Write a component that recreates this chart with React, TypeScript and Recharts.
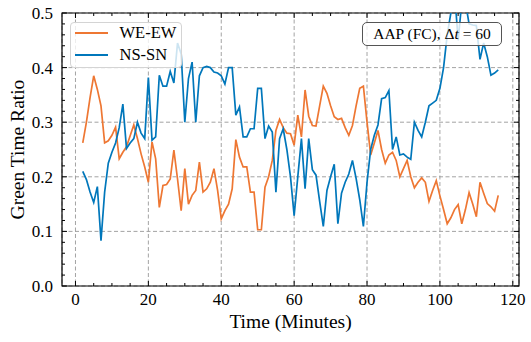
import {
  CartesianGrid,
  Line,
  LineChart,
  ReferenceArea,
  ReferenceLine,
  XAxis,
  YAxis,
} from "recharts";

// time in minutes
const minutes = [
  2, 3, 4, 5, 6, 7, 8, 9, 10, 11, 12, 13, 14, 15, 16, 17, 18, 19, 20, 21, 22,
  23, 24, 25, 26, 27, 28, 29, 30, 31, 32, 33, 34, 35, 36, 37, 38, 39, 40, 41,
  42, 43, 44, 45, 46, 47, 48, 49, 50, 51, 52, 53, 54, 55, 56, 57, 58, 59, 60,
  61, 62, 63, 64, 65, 66, 67, 68, 69, 70, 71, 72, 73, 74, 75, 76, 77, 78, 79,
  80, 81, 82, 83, 84, 85, 86, 87, 88, 89, 90, 91, 92, 93, 94, 95, 96, 97, 98,
  99, 100, 101, 102, 103, 104, 105, 106, 107, 108, 109, 110, 111, 112, 113,
  114, 115, 116,
];

const weEw = [
  0.262, 0.3, 0.345, 0.385, 0.36, 0.33, 0.262, 0.266, 0.276, 0.291,
  0.233, 0.245, 0.255, 0.275, 0.295, 0.27, 0.242, 0.218, 0.19, 0.264,
  0.233, 0.144, 0.184, 0.186, 0.196, 0.249, 0.196, 0.138, 0.215, 0.15,
  0.166, 0.175, 0.227, 0.172, 0.178, 0.19, 0.215, 0.175, 0.123, 0.138,
  0.15, 0.178, 0.268, 0.236, 0.218, 0.218, 0.172, 0.172, 0.103, 0.103,
  0.181, 0.2, 0.23, 0.285, 0.305, 0.29, 0.28, 0.279, 0.258, 0.313,
  0.273, 0.359, 0.311, 0.294, 0.293, 0.33, 0.366, 0.353, 0.33, 0.31,
  0.305, 0.307, 0.29, 0.276, 0.294, 0.33, 0.362, 0.366, 0.3, 0.24,
  0.262, 0.285, 0.25, 0.225, 0.24, 0.245, 0.23, 0.2, 0.215, 0.23,
  0.2, 0.18, 0.19, 0.198, 0.19, 0.155, 0.175, 0.193, 0.165, 0.14,
  0.114, 0.125, 0.14, 0.149, 0.114, 0.14, 0.171, 0.15, 0.127, 0.19,
  0.17, 0.151, 0.145, 0.137, 0.166,
];

const nsSn = [
  0.21, 0.195, 0.172, 0.153, 0.182, 0.083, 0.172, 0.225, 0.245, 0.262,
  0.29, 0.333, 0.252, 0.262, 0.27, 0.3, 0.28, 0.27, 0.382, 0.267,
  0.273, 0.386, 0.366, 0.366, 0.393, 0.372, 0.445, 0.425, 0.3, 0.38,
  0.41, 0.3, 0.385, 0.4, 0.402, 0.4, 0.392, 0.39, 0.385, 0.37,
  0.4, 0.4, 0.313, 0.328, 0.273, 0.273, 0.288, 0.288, 0.362, 0.362,
  0.27, 0.293, 0.282, 0.172, 0.27, 0.288, 0.25, 0.2, 0.129, 0.2,
  0.27, 0.178, 0.27, 0.213, 0.203, 0.155, 0.109, 0.175, 0.2, 0.223,
  0.114, 0.17, 0.19, 0.205, 0.23, 0.197, 0.158, 0.109, 0.19, 0.25,
  0.276, 0.295, 0.343, 0.345, 0.358, 0.25, 0.273, 0.24, 0.242, 0.236,
  0.232, 0.3, 0.285, 0.273, 0.3, 0.33, 0.335, 0.34, 0.362, 0.4,
  0.46, 0.5, 0.54, 0.45, 0.52, 0.52, 0.48, 0.478, 0.477, 0.415,
  0.445, 0.42, 0.386, 0.39, 0.396,
];

const xMajor = [0, 20, 40, 60, 80, 100, 120];
const xMinor = [5, 10, 15, 25, 30, 35, 45, 50, 55, 65, 70, 75, 85, 90, 95, 105, 110, 115];
const yMajor = [0, 0.1, 0.2, 0.3, 0.4, 0.5];
const yMinor = [
  0.02, 0.04, 0.06, 0.08, 0.12, 0.14, 0.16, 0.18, 0.22, 0.24, 0.26, 0.28,
  0.32, 0.34, 0.36, 0.38, 0.42, 0.44, 0.46, 0.48,
];

const ORANGE = "#EE7733";
const BLUE = "#0077BB";
const FONT = "'Liberation Serif', 'Times New Roman', serif";

const X_DOMAIN: [number, number] = [-3.7, 121.7];
const Y_DOMAIN: [number, number] = [0, 0.5];

const W = 531;
const H = 342;
const PLOT_W = 457;
const PLOT_H = 273;

// pixel -> data unit helpers for inward tick marks
const xu = (px: number) => (px * (X_DOMAIN[1] - X_DOMAIN[0])) / PLOT_W;
const yu = (px: number) => (px * (Y_DOMAIN[1] - Y_DOMAIN[0])) / PLOT_H;

const data = minutes.map((t, i) => ({ t, weEw: weEw[i], nsSn: nsSn[i] }));

function tickMarks() {
  const out: JSX.Element[] = [];
  const add = (key: string, a: { x: number; y: number }, b: { x: number; y: number }) =>
    out.push(
      <ReferenceLine key={key} segment={[a, b]} stroke="#000" strokeWidth={1} ifOverflow="visible" />,
    );
  for (const t of xMajor) {
    add(`xb${t}`, { x: t, y: 0 }, { x: t, y: yu(5) });
    add(`xt${t}`, { x: t, y: 0.5 }, { x: t, y: 0.5 - yu(5) });
  }
  for (const t of xMinor) {
    add(`xbm${t}`, { x: t, y: 0 }, { x: t, y: yu(3) });
    add(`xtm${t}`, { x: t, y: 0.5 }, { x: t, y: 0.5 - yu(3) });
  }
  for (const v of yMajor) {
    add(`yl${v}`, { x: X_DOMAIN[0], y: v }, { x: X_DOMAIN[0] + xu(5), y: v });
    add(`yr${v}`, { x: X_DOMAIN[1], y: v }, { x: X_DOMAIN[1] - xu(5), y: v });
  }
  for (const v of yMinor) {
    add(`ylm${v}`, { x: X_DOMAIN[0], y: v }, { x: X_DOMAIN[0] + xu(3), y: v });
    add(`yrm${v}`, { x: X_DOMAIN[1], y: v }, { x: X_DOMAIN[1] - xu(3), y: v });
  }
  return out;
}

export default function App() {
  return (
    <div
      style={{
        position: "absolute",
        left: 0,
        top: 0,
        width: W,
        height: H,
        fontFamily: FONT,
        background: "#fff",
      }}
    >
      <LineChart
        width={W}
        height={H}
        data={data}
        margin={{ top: 13, right: 12, bottom: 0, left: 0 }}
      >
        <CartesianGrid
          stroke="#999"
          strokeDasharray="4 2.5"
          strokeWidth={0.9}
        />
        <XAxis
          dataKey="t"
          type="number"
          domain={X_DOMAIN}
          allowDataOverflow
          ticks={xMajor}
          height={56}
          tickSize={0}
          tickMargin={7}
          axisLine={false}
          tickLine={false}
          tick={{ fontSize: 17, fill: "#000", fontFamily: FONT }}
          label={{
            value: "Time (Minutes)",
            position: "insideBottom",
            offset: 14,
            style: { fontSize: 19.5, fill: "#000", fontFamily: FONT },
          }}
        />
        <YAxis
          type="number"
          domain={Y_DOMAIN}
          allowDataOverflow
          ticks={yMajor}
          width={62}
          tickSize={0}
          tickMargin={9}
          axisLine={false}
          tickLine={false}
          tickFormatter={(v: number) => v.toFixed(1)}
          tick={{ fontSize: 17, fill: "#000", fontFamily: FONT }}
          label={{
            value: "Green Time Ratio",
            angle: -90,
            position: "center",
            dx: -14,
            style: { fontSize: 19.5, fill: "#000", fontFamily: FONT, textAnchor: "middle" },
          }}
        />
        <Line
          type="linear"
          dataKey="weEw"
          stroke={ORANGE}
          strokeWidth={1.7}
          dot={false}
          isAnimationActive={false}
        />
        <Line
          type="linear"
          dataKey="nsSn"
          stroke={BLUE}
          strokeWidth={1.7}
          dot={false}
          isAnimationActive={false}
        />
        <ReferenceArea
          x1={X_DOMAIN[0]}
          x2={X_DOMAIN[1]}
          y1={Y_DOMAIN[0]}
          y2={Y_DOMAIN[1]}
          fill="none"
          stroke="#000"
          strokeWidth={1.2}
          ifOverflow="visible"
        />
        {tickMarks()}
      </LineChart>

      {/* legend */}
      <div
        style={{
          position: "absolute",
          left: 69.5,
          top: 22,
          width: 112,
          height: 46,
          boxSizing: "border-box",
          border: "1px solid #d4d4d4",
          borderRadius: 4,
          background: "rgba(255,255,255,0.8)",
          fontSize: 16.5,
        }}
      >
        {[
          { name: "WE-EW", color: ORANGE, top: 10 },
          { name: "NS-SN", color: BLUE, top: 32 },
        ].map((e) => (
          <div key={e.name}>
            <div
              style={{
                position: "absolute",
                left: 4,
                top: e.top - 1,
                width: 33,
                height: 1.7,
                background: e.color,
              }}
            />
            <div
              style={{
                position: "absolute",
                left: 49,
                top: e.top - 10,
                lineHeight: "20px",
                whiteSpace: "nowrap",
              }}
            >
              {e.name}
            </div>
          </div>
        ))}
      </div>

      {/* annotation */}
      <div
        style={{
          position: "absolute",
          left: 362,
          top: 22,
          width: 140,
          height: 24,
          boxSizing: "border-box",
          border: "1.5px solid #555",
          borderRadius: 5,
          background: "rgba(255,255,255,0.8)",
          fontSize: 15.5,
          lineHeight: "21px",
          textAlign: "center",
          whiteSpace: "nowrap",
        }}
      >
        AAP (FC), Δ<i>t</i> = 60
      </div>
    </div>
  );
}
